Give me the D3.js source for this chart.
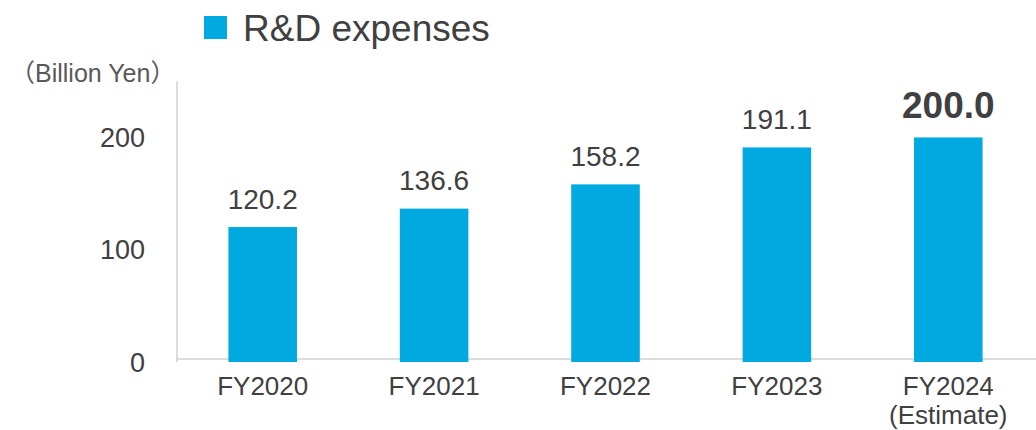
<!DOCTYPE html>
<html>
<head>
<meta charset="utf-8">
<script src="https://cdn.jsdelivr.net/npm/d3@7"></script>
<style>
  body { margin: 0; background: #fff; }
  svg { display: block; font-family: "Liberation Sans", Arial, "Noto Sans CJK JP", sans-serif; }
</style>
</head>
<body>
<div id="chart"></div>
<script>
// data
var categories = ["FY2020", "FY2021", "FY2022", "FY2023", "FY2024"];
var subLabels = ["", "", "", "", "(Estimate)"];
var values = [120.2, 136.6, 158.2, 191.1, 200.0];
var yTicks = [0, 100, 200];
var seriesName = "R&D expenses";
var unitParts = ["\uff08", "Billion Yen", "\uff09"];

var width = 1036, height = 430;
var barColor = "#00a9e0";
var textColor = "#404040";

var svg = d3.select("#chart")
    .append("svg")
        .attr("width", width)
        .attr("height", height);

var x = d3.scaleBand()
    .domain(categories)
    .range([177, 1034])
    .paddingInner(0.6)
    .paddingOuter(0.3);

var y = d3.scaleLinear()
    .domain([0, 250])
    .range([362, 81.3]);

// axis lines
svg.append("line")
    .attr("x1", 177).attr("x2", 1036)
    .attr("y1", y(0) - 3).attr("y2", y(0) - 3)
    .attr("stroke", "#d0d0d0").attr("stroke-width", 1.5);

svg.append("line")
    .attr("x1", 177).attr("x2", 177)
    .attr("y1", y(250)).attr("y2", y(0))
    .attr("stroke", "#d0d0d0").attr("stroke-width", 1.5);

// y tick labels
svg.append("g")
    .selectAll("text")
    .data(yTicks)
    .join("text")
        .attr("x", 145)
        .attr("y", d => y(d) + 9.5)
        .attr("text-anchor", "end")
        .attr("font-size", 27)
        .attr("fill", textColor)
        .text(d => d3.format("d")(d));

// unit label: parens from the CJK font, words from Liberation Sans
var unit = svg.append("text")
    .attr("x", 10)
    .attr("y", 82)
    .attr("font-size", 25)
    .attr("fill", "#595959");
unit.selectAll("tspan")
    .data(unitParts)
    .join("tspan")
        .attr("font-family", (d, i) => i === 1 ? "Liberation Sans, Arial, sans-serif" : "Noto Sans CJK JP, sans-serif")
        .text(d => d);

// bars
var rows = categories.map((c, i) => ({ cat: c, sub: subLabels[i], value: values[i], last: i === categories.length - 1 }));

svg.append("g")
    .selectAll("rect")
    .data(rows)
    .join("rect")
        .attr("x", d => x(d.cat))
        .attr("y", d => y(d.value))
        .attr("width", x.bandwidth())
        .attr("height", d => y(0) - y(d.value))
        .attr("fill", barColor);

// value labels
svg.append("g")
    .selectAll("text")
    .data(rows)
    .join("text")
        .attr("x", d => x(d.cat) + x.bandwidth() / 2)
        .attr("y", d => y(d.value) - (d.last ? 19.5 : 18.5))
        .attr("text-anchor", "middle")
        .attr("font-size", d => d.last ? 37 : 28)
        .attr("font-weight", d => d.last ? "bold" : "normal")
        .attr("fill", textColor)
        .text(d => d3.format(".1f")(d.value));

// category labels
var catLabels = svg.append("g")
    .selectAll("text")
    .data(rows)
    .join("text")
        .attr("x", d => x(d.cat) + x.bandwidth() / 2)
        .attr("y", 395)
        .attr("text-anchor", "middle")
        .attr("font-size", 26)
        .attr("fill", textColor);

catLabels.append("tspan").text(d => d.cat);
catLabels.filter(d => d.sub)
    .append("tspan")
        .attr("x", d => x(d.cat) + x.bandwidth() / 2)
        .attr("dy", 29)
        .text(d => d.sub);

// legend
svg.append("rect")
    .attr("x", 204).attr("y", 16)
    .attr("width", 23).attr("height", 23)
    .attr("fill", barColor);

svg.append("text")
    .attr("x", 243)
    .attr("y", 40.5)
    .attr("font-size", 37)
    .attr("fill", textColor)
    .text(seriesName);
</script>
</body>
</html>
